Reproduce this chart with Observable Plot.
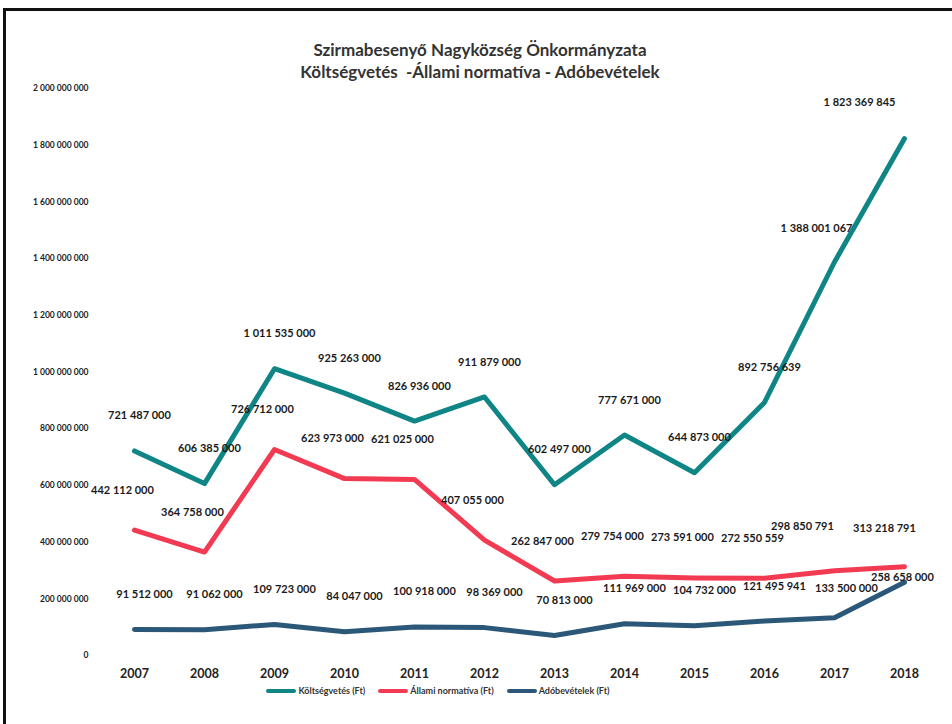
<!DOCTYPE html>
<html>
<head>
<meta charset="utf-8">
<script src="https://cdn.jsdelivr.net/npm/d3@7"></script>
<script src="https://cdn.jsdelivr.net/npm/@observablehq/plot@0.6"></script>
<style>
  html, body { margin: 0; padding: 0; background: #fff; }
  #wrap { position: relative; width: 952px; height: 724px; overflow: hidden; font-family: Lato, "Open Sans", sans-serif; }
  #frame { position: absolute; left: 3px; top: 8px; right: -4px; bottom: -4px; border-top: 3px solid #111; border-left: 3px solid #111; pointer-events: none; }
  #title { padding-top: 39px; padding-left: 8px; text-align: center; font-weight: bold; font-size: 17px; line-height: 22px; color: #333; height: 43px; }
  #chart svg { display: block; overflow: visible; }
  #legend { display: flex; justify-content: center; align-items: center; gap: 13px; font-size: 9px; font-weight: bold; color: #333; padding-right: 76px; }
  #legend .item { display: flex; align-items: center; gap: 2px; }
  #legend .sw { display: inline-block; width: 30px; height: 4px; border-radius: 2px; }
</style>
</head>
<body>
<div id="wrap">
  <div id="frame"></div>
  <div id="title">Szirmabesenyő Nagyközség Önkormányzata<br>Költségvetés &nbsp;-Állami normatíva - Adóbevételek</div>
  <div id="chart"></div>
  <div id="legend"></div>
</div>
<script>
const years = [2007, 2008, 2009, 2010, 2011, 2012, 2013, 2014, 2015, 2016, 2017, 2018];
const koltsegvetes = [721487000, 606385000, 1011535000, 925263000, 826936000, 911879000, 602497000, 777671000, 644873000, 892756639, 1388001067, 1823369845];
const allamiNormativa = [442112000, 364758000, 726712000, 623973000, 621025000, 407055000, 262847000, 279754000, 273591000, 272550559, 298850791, 313218791];
const adobevetelek = [91512000, 91062000, 109723000, 84047000, 100918000, 98369000, 70813000, 111969000, 104732000, 121495941, 133500000, 258658000];
const seriesNames = ["Költségvetés (Ft)", "Állami normatíva (Ft)", "Adóbevételek (Ft)"];
const seriesColors = ["#0f8585", "#f23b52", "#2b5878"];
const yTicks = [0, 200000000, 400000000, 600000000, 800000000, 1000000000, 1200000000, 1400000000, 1600000000, 1800000000, 2000000000];

const seriesValues = [koltsegvetes, allamiNormativa, adobevetelek];
const rows = seriesValues.flatMap((vals, i) => vals.map((v, j) => ({series: seriesNames[i], year: years[j], value: v})));
const fmt = d3.formatLocale({decimal: ",", thousands: " ", grouping: [3], currency: ["", ""]}).format(",d");

// label offsets per series (style); the last two years get their own offsets
const labelStyle = [
  {dx: 5, dy: -35, prevDx: -18, prevDy: -34, lastDx: -45, lastDy: -36},
  {dx: -12, dy: -40, prevDx: -32, prevDy: -44, lastDx: -20, lastDy: -38},
  {dx: 10, dy: -35, prevDx: 12, prevDy: -29, lastDx: -2, lastDy: -5}
];
const lastYear = years[years.length - 1];
const prevYear = years[years.length - 2];

const labelMarks = seriesNames.flatMap((name, i) => {
  const s = labelStyle[i];
  const common = {x: "year", y: "value", text: d => fmt(d.value), fontSize: 11, fontWeight: "bold", fill: "#1a1a1a"};
  return [
    Plot.text(rows.filter(d => d.series === name && d.year < prevYear), {...common, dx: s.dx, dy: s.dy}),
    Plot.text(rows.filter(d => d.series === name && d.year === prevYear), {...common, dx: s.prevDx, dy: s.prevDy}),
    Plot.text(rows.filter(d => d.series === name && d.year === lastYear), {...common, dx: s.lastDx, dy: s.lastDy})
  ];
});

const chart = Plot.plot({
  width: 952,
  height: 603,
  marginTop: 6,
  marginBottom: 30,
  marginLeft: 133,
  marginRight: 48,
  style: {fontFamily: "Lato, 'Open Sans', sans-serif", overflow: "visible", background: "transparent"},
  x: {type: "point", domain: years, padding: 0},
  y: {domain: [0, 2000000000]},
  color: {domain: seriesNames, range: seriesColors},
  marks: [
    Plot.axisY({ticks: yTicks, tickSize: 0, tickPadding: 45, tickFormat: fmt, fontSize: 8.5, fontWeight: "bold", fill: "#222", label: null}),
    Plot.axisX({tickSize: 0, tickPadding: 14, tickFormat: d => String(d), fontSize: 12.5, fontWeight: "bold", fill: "#222", label: null}),
    Plot.line(rows, {x: "year", y: "value", z: "series", stroke: "series", strokeWidth: 5, strokeLinejoin: "round", strokeLinecap: "round"}),
    ...labelMarks
  ]
});
document.getElementById("chart").appendChild(chart);

const legend = document.getElementById("legend");
seriesNames.forEach((name, i) => {
  const item = document.createElement("div");
  item.className = "item";
  const sw = document.createElement("span");
  sw.className = "sw";
  sw.style.background = seriesColors[i];
  const t = document.createElement("span");
  t.textContent = name;
  item.appendChild(sw);
  item.appendChild(t);
  legend.appendChild(item);
});
</script>
</body>
</html>
